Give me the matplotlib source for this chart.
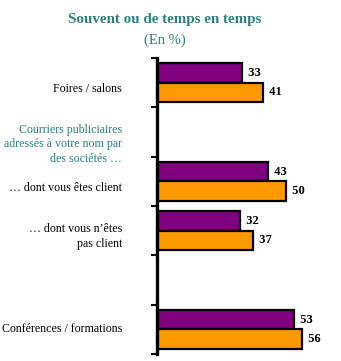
import matplotlib
matplotlib.use("Agg")
import matplotlib.pyplot as plt
import matplotlib.transforms as mtransforms

# Survey categories (top to bottom); empty rows leave a gap in the layout
categories = [
    "Foires / salons",
    "Courriers publiciaires\nadressés à votre nom par\ndes sociétés …",
    "… dont vous êtes client",
    "… dont vous n’êtes\npas client",
    "",
    "Conférences / formations",
]
series_a = [33, None, 43, 32, None, 53]   # purple bars
series_b = [41, None, 50, 37, None, 56]   # orange bars
header_rows = [1]                          # rows drawn as a teal heading

title = "Souvent ou de temps en temps"
subtitle = "(En %)"

PURPLE = "#800080"
ORANGE = "#FF9900"
TEAL = "#2A8080"
SERIF = ["Liberation Serif", "DejaVu Serif"]

fig = plt.figure(figsize=(3.41, 3.61), dpi=100)
ax = fig.add_axes([157 / 341, 7 / 361, 181 / 341, 296 / 361])

n = len(categories)
bar_h = 0.39
for i, (a, b) in enumerate(zip(series_a, series_b)):
    if a is not None:
        ax.barh(i + 0.5 - 0.195, a, height=bar_h, color=PURPLE,
                edgecolor="black", linewidth=1.6)
        ax.text(a, i + 0.5 - 0.195, f"  {a}", va="center", ha="left",
                fontsize=9, fontweight="bold", family=SERIF)
    if b is not None:
        ax.barh(i + 0.5 + 0.195, b, height=bar_h, color=ORANGE,
                edgecolor="black", linewidth=1.6)
        ax.text(b, i + 0.5 + 0.195, f"  {b}", va="center", ha="left",
                fontsize=9, fontweight="bold", family=SERIF)

ax.set_xlim(0, 70)
ax.set_ylim(n, 0)
ax.set_yticks(range(n + 1))
ax.set_yticklabels([])
ax.set_xticks([])
ax.tick_params(axis="y", direction="out", length=4, width=1.5, color="black")
for s in ["top", "right", "bottom"]:
    ax.spines[s].set_visible(False)
ax.spines["left"].set_linewidth(2.4)

# Category labels, right-aligned left of the axis
lab_tr = mtransforms.blended_transform_factory(ax.transAxes, ax.transData)
lab_tr = lab_tr + mtransforms.ScaledTranslation(-35 / 100, 0, fig.dpi_scale_trans)
label_shift = [0.12, 0.25, 0.13, 0.12, 0.0, 0.0]
for i, lab in enumerate(categories):
    if not lab:
        continue
    color = TEAL if i in header_rows else "black"
    ax.text(0, i + 0.5 + label_shift[i], lab, transform=lab_tr,
            ha="right", va="center", fontsize=8.6, color=color,
            family=SERIF, linespacing=1.3, multialignment="right")

fig.text(165 / 341, 1 - 20 / 361, title, ha="center", va="center",
         fontsize=10.8, fontweight="bold", color=TEAL, family=SERIF)
fig.text(165 / 341, 1 - 40 / 361, subtitle, ha="center", va="center",
         fontsize=10.5, color=TEAL, family=SERIF)

fig.savefig("out.png", dpi=100)
